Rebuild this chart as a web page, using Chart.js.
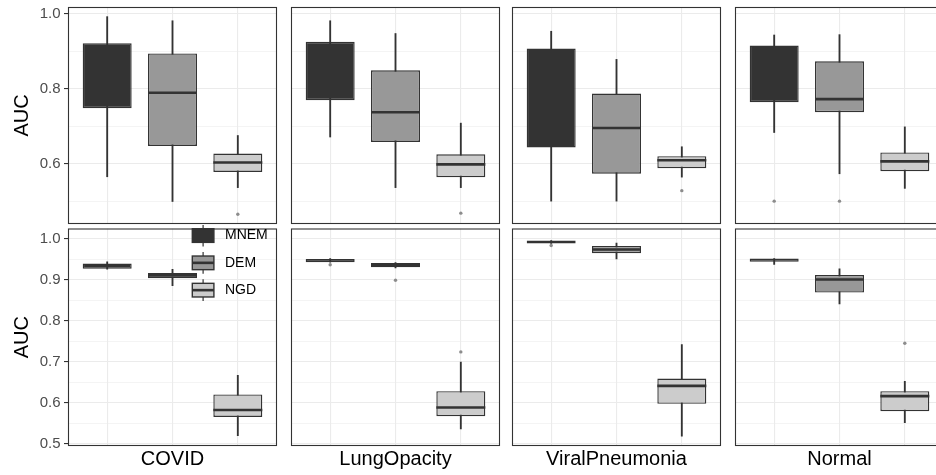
<!DOCTYPE html>
<html>
<head>
<meta charset="utf-8">
<script src="https://cdn.jsdelivr.net/npm/chart.js@4.4.1/dist/chart.umd.min.js"></script>
<style>
  body { margin: 0; width: 936px; height: 475px; overflow: hidden; background: #fff; position: relative; }
  .panel { position: absolute; }
</style>
</head>
<body>
<script>
// data..............................................................
var classes = ["COVID", "LungOpacity", "ViralPneumonia", "Normal"];
var groups = ["MNEM", "DEM", "NGD"];
var groupColors = ["#333333", "#989898", "#CCCCCC"];

// top row, one entry per class: [MNEM, DEM, NGD]
var topLow    = [[0.566, 0.500, 0.537], [0.672, 0.537, 0.537], [0.501, 0.501, 0.565], [0.684, 0.574, 0.535]];
var topQ1     = [[0.749, 0.648, 0.579], [0.770, 0.659, 0.565], [0.644, 0.574, 0.589], [0.765, 0.738, 0.581]];
var topMedian = [[0.840, 0.790, 0.604], [0.850, 0.738, 0.599], [0.790, 0.696, 0.610], [0.850, 0.773, 0.607]];
var topQ3     = [[0.922, 0.895, 0.628], [0.926, 0.850, 0.626], [0.908, 0.788, 0.621], [0.916, 0.874, 0.631]];
var topHigh   = [[0.993, 0.982, 0.676], [0.982, 0.948, 0.709], [0.954, 0.879, 0.646], [0.944, 0.945, 0.699]];
// [class, group, value]
var topOutliers = [[0, 2, 0.466], [1, 2, 0.469], [2, 2, 0.529], [3, 0, 0.501], [3, 1, 0.501]];

// bottom row
var bottomLow    = [[0.926, 0.886, 0.519], [0.943, 0.929, 0.536], [0.989, 0.951, 0.518], [0.938, 0.841, 0.551]];
var bottomQ1     = [[0.927, 0.904, 0.565], [0.943, 0.931, 0.567], [0.989, 0.965, 0.597], [0.944, 0.869, 0.579]];
var bottomMedian = [[0.934, 0.911, 0.582], [0.947, 0.936, 0.588], [0.993, 0.974, 0.641], [0.948, 0.901, 0.616]];
var bottomQ3     = [[0.940, 0.917, 0.620], [0.951, 0.941, 0.628], [0.996, 0.983, 0.659], [0.952, 0.912, 0.628]];
var bottomHigh   = [[0.944, 0.926, 0.667], [0.952, 0.942, 0.699], [0.996, 0.990, 0.742], [0.952, 0.927, 0.652]];
var bottomOutliers = [[1, 0, 0.937], [1, 1, 0.899], [1, 2, 0.724], [2, 0, 0.984], [3, 2, 0.745]];

// tick values
var topTicks = [0.5, 0.6, 0.7, 0.8, 0.9, 1.0];
var topMajor = [0.6, 0.8, 1.0];
var bottomTicks = [0.5, 0.55, 0.6, 0.65, 0.7, 0.75, 0.8, 0.85, 0.9, 0.95, 1.0];
var bottomMajor = [0.5, 0.6, 0.7, 0.8, 0.9, 1.0];

var rows = [
  { low: topLow, q1: topQ1, med: topMedian, q3: topQ3, high: topHigh, out: topOutliers,
    ticks: topTicks, major: topMajor, min: 0.44, max: 1.0187 },
  { low: bottomLow, q1: bottomQ1, med: bottomMedian, q3: bottomQ3, high: bottomHigh, out: bottomOutliers,
    ticks: bottomTicks, major: bottomMajor, min: 0.494, max: 1.0255 }
];

// layout..............................................................
var panelLeft = [68, 291, 512, 735];
var panelWidth = 209;
var axisWidth = 68;
var lineColor = "#333333";

Chart.defaults.font.family = "'Liberation Sans', Arial, sans-serif";
Chart.defaults.animation = false;

function isIn(list, v) {
  return list.some(function (m) { return Math.abs(m - v) < 1e-6; });
}

// medians + panel border
var boxPlugin = {
  id: "boxExtras",
  afterDatasetsDraw: function (chart, args, opts) {
    var ctx = chart.ctx;
    var area = chart.chartArea;
    var y = chart.scales.y;
    var meta = chart.getDatasetMeta(1);
    ctx.save();
    ctx.strokeStyle = lineColor;
    ctx.lineWidth = 2.6;
    meta.data.forEach(function (bar, i) {
      // a median on a fill of the same colour can't be seen, skip it
      if (groupColors[i] === lineColor) return;
      var py = y.getPixelForValue(opts.medians[i]);
      ctx.beginPath();
      ctx.moveTo(bar.x - bar.width / 2, py);
      ctx.lineTo(bar.x + bar.width / 2, py);
      ctx.stroke();
    });
    ctx.lineWidth = 1.1;
    ctx.strokeRect(area.left + 0.5, area.top + 0.5, area.right - area.left - 1, area.bottom - area.top - 1);
    ctx.restore();
  }
};

// legend inside the bottom-left panel
var keyLegend = {
  id: "keyLegend",
  afterDraw: function (chart) {
    var ctx = chart.ctx;
    var area = chart.chartArea;
    var kw = 27, kh = 27.3;
    var x0 = area.right - 87.4;
    var y0 = area.top - 6.6;
    ctx.save();
    groups.forEach(function (g, i) {
      var top = y0 + i * kh;
      var cx = x0 + kw / 2;
      ctx.strokeStyle = lineColor;
      ctx.lineWidth = 1.2;
      ctx.beginPath();
      ctx.moveTo(cx, top + 0.1 * kh);
      ctx.lineTo(cx, top + 0.25 * kh);
      ctx.moveTo(cx, top + 0.75 * kh);
      ctx.lineTo(cx, top + 0.9 * kh);
      ctx.stroke();
      ctx.fillStyle = groupColors[i];
      ctx.fillRect(x0 + 0.1 * kw, top + 0.25 * kh, 0.8 * kw, 0.5 * kh);
      ctx.lineWidth = 1.4;
      ctx.strokeRect(x0 + 0.1 * kw, top + 0.25 * kh, 0.8 * kw, 0.5 * kh);
      if (groupColors[i] !== lineColor) {
        ctx.lineWidth = 2.6;
        ctx.beginPath();
        ctx.moveTo(x0 + 0.1 * kw, top + 0.5 * kh);
        ctx.lineTo(x0 + 0.9 * kw, top + 0.5 * kh);
        ctx.stroke();
      }
      ctx.fillStyle = "#000000";
      ctx.font = "14px 'Liberation Sans', Arial, sans-serif";
      ctx.textBaseline = "middle";
      ctx.textAlign = "left";
      ctx.fillText(g, x0 + 35.4, top + 0.5 * kh);
    });
    ctx.restore();
  }
};

function makePanel(r, c) {
  var d = rows[r];
  var isLeft = c === 0;
  var isBottom = r === 1;

  var div = document.createElement("div");
  div.className = "panel";
  var left = isLeft ? 0 : panelLeft[c] - 1;
  var width = isLeft ? axisWidth + panelWidth + 1 : panelWidth + 2;
  div.style.left = left + "px";
  div.style.top = (isBottom ? 225 : 0) + "px";
  div.style.width = width + "px";
  div.style.height = (isBottom ? 250 : 226) + "px";
  var canvas = document.createElement("canvas");
  div.appendChild(canvas);
  document.body.appendChild(div);

  var whiskers = groups.map(function (g, i) {
    return { x: i + 1, y: [d.low[c][i], d.high[c][i]] };
  });
  var boxes = groups.map(function (g, i) {
    return { x: i + 1, y: [d.q1[c][i], d.q3[c][i]] };
  });
  var outliers = d.out.filter(function (o) { return o[0] === c; }).map(function (o) {
    return { x: o[1] + 1, y: o[2] };
  });

  var plugins = [boxPlugin];
  if (isLeft && isBottom) plugins.push(keyLegend);

  new Chart(canvas, {
    type: "bar",
    data: {
      datasets: [{
        data: whiskers,
        backgroundColor: lineColor,
        barThickness: 1.2,
        grouped: false,
        order: 3
      }, {
        data: boxes,
        backgroundColor: groupColors,
        borderColor: lineColor,
        borderWidth: 1.4,
        borderSkipped: false,
        grouped: false,
        barPercentage: 0.75,
        categoryPercentage: 1,
        order: 2
      }, {
        type: "scatter",
        data: outliers,
        pointRadius: 1.7,
        pointBackgroundColor: "#8c8c8c",
        pointBorderWidth: 0,
        order: 1
      }]
    },
    options: {
      responsive: true,
      maintainAspectRatio: false,
      layout: {
        autoPadding: false,
        padding: {
          left: isLeft ? 0 : 1,
          right: 1,
          top: isBottom ? 3.5 : 7,
          bottom: isBottom ? 0 : 2
        }
      },
      plugins: {
        legend: { display: false },
        tooltip: { enabled: false },
        boxExtras: { medians: d.med[c] }
      },
      scales: {
        x: {
          type: "linear",
          min: 0.4,
          max: 3.6,
          offset: false,
          afterBuildTicks: function (scale) {
            scale.ticks = [1, 2, 3].map(function (v) { return { value: v }; });
          },
          afterFit: function (scale) {
            scale.height = isBottom ? 29 : 0;
            scale.paddingLeft = 0;
            scale.paddingRight = 0;
          },
          ticks: { display: false },
          border: { display: false },
          grid: { color: "#EBEBEB", lineWidth: 1.1, drawTicks: false, offset: false },
          title: {
            display: isBottom,
            text: classes[c],
            color: "#000000",
            font: { size: 20 },
            padding: { top: 0, bottom: 4 }
          }
        },
        y: {
          min: d.min,
          max: d.max,
          afterBuildTicks: function (scale) {
            scale.ticks = d.ticks.map(function (v) { return { value: v }; });
          },
          afterFit: function (scale) {
            scale.width = isLeft ? axisWidth : 0;
            scale.paddingTop = 0;
            scale.paddingBottom = 0;
          },
          ticks: {
            display: isLeft,
            color: "#4D4D4D",
            font: { size: 15 },
            padding: 3.5,
            callback: function (v) { return isIn(d.major, v) ? v.toFixed(1) : ""; }
          },
          border: { display: false },
          grid: {
            color: "#EBEBEB",
            lineWidth: function (ctx) { return isIn(d.major, ctx.tick.value) ? 1.1 : 0.55; },
            drawTicks: isLeft,
            tickLength: 4,
            tickWidth: 1.1,
            tickColor: function (ctx) { return isIn(d.major, ctx.tick.value) ? lineColor : "rgba(0,0,0,0)"; }
          },
          title: {
            display: isLeft,
            text: "AUC",
            color: "#000000",
            font: { size: 20 },
            padding: { top: 10, bottom: 0 }
          }
        }
      }
    },
    plugins: plugins
  });
}

for (var r = 0; r < 2; r++) {
  for (var c = 0; c < 4; c++) {
    makePanel(r, c);
  }
}
</script>
</body>
</html>
